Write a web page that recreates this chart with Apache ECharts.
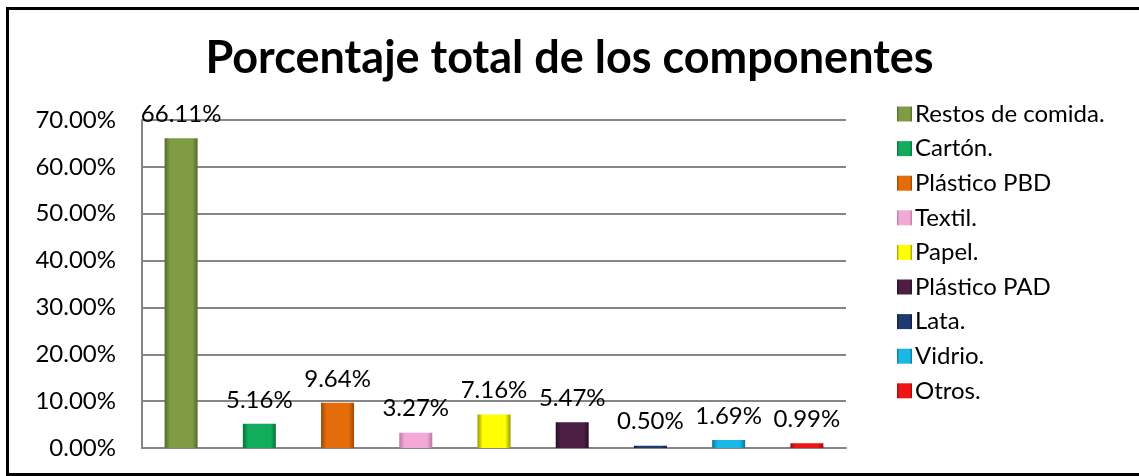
<!DOCTYPE html>
<html>
<head>
<meta charset="utf-8">
<script src="https://cdn.jsdelivr.net/npm/echarts@6/dist/echarts.min.js"></script>
<style>
    html, body { margin: 0; padding: 0; background: #fff; }
    #chart { width: 1139px; height: 476px; }
</style>
</head>
<body>
<div id="chart"></div>
<script>
    // categorias y valores
    var categories = ['Restos de comida.', 'Cartón.', 'Plástico PBD', 'Textil.', 'Papel.', 'Plástico PAD', 'Lata.', 'Vidrio.', 'Otros.'];
    var values = [66.11, 5.16, 9.64, 3.27, 7.16, 5.47, 0.50, 1.69, 0.99];
    var yTicks = [0, 10, 20, 30, 40, 50, 60, 70];
    var baseColors = ['#7f9b43', '#12ad5c', '#e46c0a', '#f3a8d6', '#ffff00', '#4b1f43', '#1f3a6e', '#19b8e6', '#ee1515'];
    var edgeColors = ['#55692c', '#087038', '#9a4806', '#b97aa2', '#9a9a00', '#2a1025', '#0f203f', '#0d7595', '#a00a0a'];

    var fontName = 'Lato';

    function bevel(i) {
        return new echarts.graphic.LinearGradient(0, 0, 1, 0, [
            {offset: 0, color: edgeColors[i]},
            {offset: 0.16, color: baseColors[i]},
            {offset: 0.84, color: baseColors[i]},
            {offset: 1, color: edgeColors[i]}
        ]);
    }

    var series = categories.map(function (name, i) {
        var data = categories.map(function (c, j) {
            return j === i ? values[i] : '-';
        });
        return {
            name: name,
            type: 'bar',
            stack: 'total',
            barWidth: 33,
            data: data,
            itemStyle: {color: bevel(i)},
            label: {
                show: true,
                position: 'top',
                distance: 12,
                color: '#000',
                fontFamily: fontName,
                fontSize: 24,
                formatter: function (p) {
                    return p.value.toFixed(2) + '%';
                }
            }
        };
    });

    var myChart = echarts.init(document.getElementById('chart'));
    var option = {
        animation: false,
        title: {
            text: 'Porcentaje total de los componentes',
            left: 'center',
            top: 31,
            textStyle: {
                fontFamily: fontName,
                fontWeight: 'bold',
                fontSize: 45,
                color: '#000'
            }
        },
        graphic: [{
            type: 'rect',
            shape: {x: 7.5, y: 8.5, width: 1140, height: 466},
            style: {fill: 'none', stroke: '#000', lineWidth: 3},
            silent: true
        }],
        legend: {
            orient: 'vertical',
            left: 892,
            top: 96,
            icon: 'rect',
            itemWidth: 15,
            itemHeight: 15,
            itemGap: 8.6,
            data: categories,
            textStyle: {
                fontFamily: fontName,
                fontSize: 24,
                lineHeight: 26,
                color: '#000',
                padding: [0, 0, 0, -2]
            }
        },
        grid: {
            left: 142,
            right: 293,
            top: 120,
            bottom: 28
        },
        xAxis: {
            type: 'category',
            data: categories,
            axisLine: {lineStyle: {color: '#868686', width: 2}},
            axisTick: {show: false},
            axisLabel: {show: false}
        },
        yAxis: {
            type: 'value',
            min: yTicks[0],
            max: yTicks[yTicks.length - 1],
            interval: 10,
            axisLine: {show: true, lineStyle: {color: '#868686', width: 2}},
            axisTick: {show: false},
            splitLine: {lineStyle: {color: '#868686', width: 2}},
            axisLabel: {
                margin: 26,
                color: '#000',
                fontFamily: fontName,
                fontSize: 24,
                formatter: function (v) {
                    return v.toFixed(2) + '%';
                }
            }
        },
        series: series
    };
    myChart.setOption(option);
</script>
</body>
</html>
